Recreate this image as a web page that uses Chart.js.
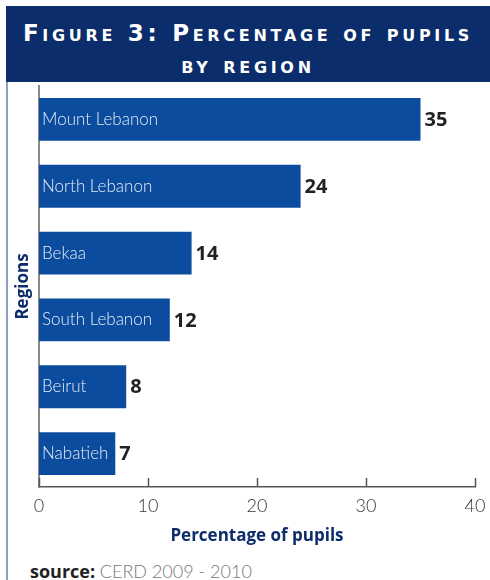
<!DOCTYPE html>
<html>
<head>
<meta charset="utf-8">
<script src="https://cdn.jsdelivr.net/npm/chart.js@4.4.1/dist/chart.umd.min.js"></script>
<style>
  html, body { margin: 0; padding: 0; background: #fff; }
  body { width: 490px; height: 580px; position: relative; overflow: hidden; }
  #header {
    position: absolute; left: 6px; top: 6px; width: 484px; height: 76px;
    background: #0b2d6b; color: #fff; text-align: center;
    font-family: "DejaVu Sans", sans-serif; font-weight: bold; font-size: 23px;
    font-variant: small-caps; letter-spacing: 3.7px; line-height: 32px;
    padding-top: 11px; box-sizing: border-box; white-space: nowrap;
  }
  #rule { position: absolute; left: 6px; top: 82px; width: 2px; height: 498px; background: #8d9fc6; }
  #wrap { position: absolute; left: 0; top: 82px; width: 490px; height: 470px; }
  #source {
    position: absolute; left: 30px; top: 559px; font-family: "Open Sans", sans-serif;
    font-size: 18px; color: #222;
  }
  #source b { font-weight: 700; }
  #source span { color: #777; font-weight: 300; font-family: "Lato", sans-serif; }
</style>
</head>
<body>
<div id="header">Figure 3: Percentage of pupils<br>by region</div>
<div id="rule"></div>
<div id="wrap"><canvas id="chart"></canvas></div>
<div id="source"><b>source:</b> <span>CERD 2009 - 2010</span></div>
<script>
// Share of pupils per region, top to bottom
const regions = ["Mount Lebanon", "North Lebanon", "Bekaa", "South Lebanon", "Beirut", "Nabatieh"];
const pupilShare = [35, 24, 14, 12, 8, 7];
const xTicks = [0, 10, 20, 30, 40];

const barBlue = "#0c4c9e";
const navy = "#0c2c6b";

// Region names inside the bars, values after them, tick marks pointing up
const barText = {
  id: "barText",
  afterDatasetsDraw(chart) {
    const ctx = chart.ctx;
    const meta = chart.getDatasetMeta(0);
    ctx.save();
    meta.data.forEach((bar, i) => {
      ctx.textBaseline = "middle";
      ctx.textAlign = "left";
      ctx.font = "300 17px Lato, sans-serif";
      ctx.fillStyle = "#e4ebf6";
      ctx.fillText(regions[i], bar.base + 3, bar.y);
      ctx.font = "bold 20px 'Open Sans', sans-serif";
      ctx.fillStyle = "#222";
      ctx.fillText(String(pupilShare[i]), bar.x + 4, bar.y + 1);
    });
    const xs = chart.scales.x;
    const bottom = chart.chartArea.bottom;
    ctx.strokeStyle = "#555";
    ctx.lineWidth = 1.5;
    xTicks.forEach(v => {
      const px = Math.round(xs.getPixelForValue(v)) + 0.5;
      ctx.beginPath();
      ctx.moveTo(px, bottom);
      ctx.lineTo(px, bottom - 9);
      ctx.stroke();
    });
    ctx.restore();
  }
};

new Chart(document.getElementById("chart"), {
  type: "bar",
  data: {
    labels: regions,
    datasets: [{
      data: pupilShare,
      backgroundColor: barBlue,
      barPercentage: 0.64,
      categoryPercentage: 1
    }]
  },
  options: {
    indexAxis: "y",
    responsive: true,
    maintainAspectRatio: false,
    animation: false,
    layout: { padding: { top: 4, right: 15, left: 0, bottom: 0 } },
    plugins: { legend: { display: false }, tooltip: { enabled: false } },
    scales: {
      x: {
        min: 0, max: 40,
        afterBuildTicks: s => { s.ticks = xTicks.map(v => ({ value: v })); },
        grid: { display: false },
        border: { display: true, color: "#555", width: 1.5 },
        ticks: { padding: 0, color: "#333", font: { family: "Lato", weight: "300", size: 18 } },
        title: {
          display: true, text: "Percentage of pupils", color: navy,
          font: { family: "Open Sans", weight: "bold", size: 17 },
          padding: { top: 0, bottom: 6 }
        },
        afterFit: s => { s.height = 65; }
      },
      y: {
        grid: { display: false },
        border: { display: true, color: "#8a8a8a", width: 2 },
        ticks: { display: false },
        title: {
          display: true, text: "Regions", color: navy,
          font: { family: "Open Sans", weight: "bold", size: 17 },
          padding: { top: 13, bottom: 0 }
        },
        afterFit: s => { s.width = 39; }
      }
    }
  },
  plugins: [barText]
});
</script>
</body>
</html>
